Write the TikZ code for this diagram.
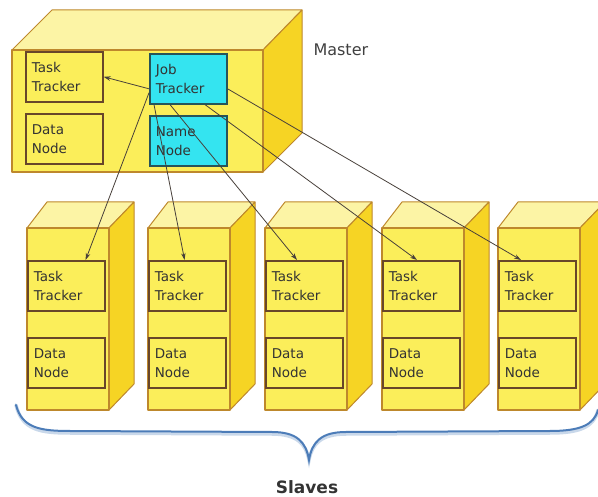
\documentclass[tikz,border=0pt]{standalone}
\usepackage{fontspec}
\setmainfont{DejaVu Sans}
\usetikzlibrary{arrows.meta,calc}

\definecolor{frontY}{RGB}{251,238,90}
\definecolor{topY}{RGB}{252,244,165}
\definecolor{sideY}{RGB}{246,212,36}
\definecolor{edgeY}{RGB}{190,136,44}
\definecolor{boxEdge}{RGB}{104,70,42}
\definecolor{cyanFill}{RGB}{52,228,240}
\definecolor{cyanEdge}{RGB}{40,84,88}
\definecolor{linkGray}{RGB}{72,64,58}
\definecolor{braceBlue}{RGB}{76,124,184}

\begin{document}
\begin{tikzpicture}[x=1pt,y=-1pt,
  frontface/.style={fill=frontY, draw=edgeY, line width=1.3pt, line join=round},
  topface/.style={fill=topY, draw=edgeY, line width=1pt, line join=round},
  sideface/.style={fill=sideY, draw=edgeY, line width=1pt, line join=round},
  unitbox/.style={draw=boxEdge, line width=1.6pt, fill=frontY, anchor=north west,
    minimum width=77pt, minimum height=50pt, inner xsep=6pt, inner ysep=0pt,
    text width=65pt, align=left, font=\fontsize{13.5}{19}\selectfont, text=black!80},
  cyanbox/.style={unitbox, fill=cyanFill, draw=cyanEdge},
  link/.style={draw=linkGray, line width=0.8pt, -{Stealth[length=7pt,width=4.5pt]}},
  caption/.style={font=\fontsize{16}{19}\selectfont, text=black!75}
]
\useasboundingbox (0,0) rectangle (598,497);

% ---- master machine ----
\fill[topface] (12,50) -- (52,10) -- (302,10) -- (263,50) -- cycle;
\fill[sideface] (263,50) -- (302,10) -- (302,133) -- (263,172) -- cycle;
\fill[frontface] (12,50) rectangle (263,172);
\node[unitbox] (mTT) at (25,51) {Task\\Tracker};
\node[unitbox] (mDN) at (25,113) {Data\\Node};
\node[cyanbox] (JT) at (149,53) {Job\\Tracker};
\node[cyanbox] (NN) at (149,115) {Name\\Node};
\node[caption, anchor=west] (master) at (310,50) {Master};

% ---- slave machines ----
\foreach \i/\x in {1/27,2/148,3/265,4/382,5/498}{
  \fill[topface] (\x,228) -- (\x+20,202) -- (\x+107,202) -- (\x+82,228) -- cycle;
  \fill[sideface] (\x+82,228) -- (\x+107,202) -- (\x+107,384) -- (\x+82,410) -- cycle;
  \fill[frontface] (\x,228) rectangle (\x+82,410);
  \node[unitbox] (s\i tt) at (\x,260) {Task\\Tracker};
  \node[unitbox] (s\i dn) at (\x,337) {Data\\Node};
}

% ---- links from the job tracker ----
\draw[link] ([yshift=-10pt]JT.west) -- (mTT.east);
\draw[link] ([yshift=-14pt]JT.west) -- ([xshift=-20pt]s1tt.north east);
\draw[link] ([xshift=5pt]JT.south west) -- ([xshift=-42pt]s2tt.north east);
\draw[link] ([xshift=21pt]JT.south west) -- ([xshift=32pt]s3tt.north west);
\draw[link] ([xshift=56pt]JT.south west) -- ([xshift=35pt]s4tt.north west);
\draw[link] ([yshift=-10pt]JT.east) -- ([xshift=23pt]s5tt.north west);

% ---- brace grouping the slaves ----
\coordinate (bl) at (16,405);
\coordinate (tip) at (309,460);
\coordinate (br) at (598,410);
\draw[braceBlue!30, line width=3.5pt, line cap=round, yshift=-2pt]
  (bl) .. controls (22,428) and (40,431) .. (70,431) -- (272,432)
  .. controls (297,432) and (306,442) .. (tip)
  .. controls (312,442) and (321,432) .. (346,432) -- (550,431)
  .. controls (580,431) and (594,425) .. (br);
\draw[braceBlue, line width=2pt, line cap=round]
  (bl) .. controls (22,428) and (40,431) .. (70,431) -- (272,432)
  .. controls (297,432) and (306,442) .. (tip)
  .. controls (312,442) and (321,432) .. (346,432) -- (550,431)
  .. controls (580,431) and (594,425) .. (br);
\node[font=\fontsize{17}{20}\selectfont\bfseries, text=black!80] (slaves) at (307,487) {Slaves};
\end{tikzpicture}
\end{document}
